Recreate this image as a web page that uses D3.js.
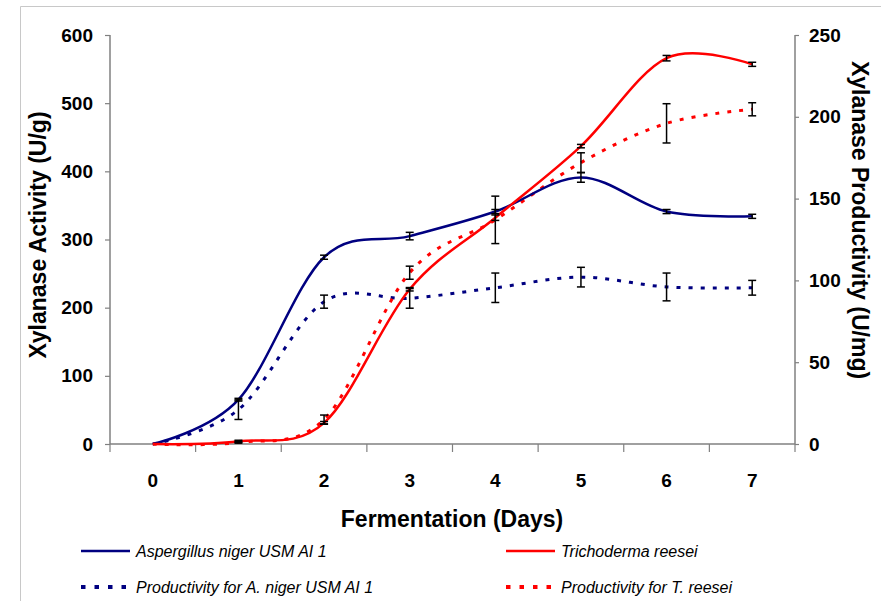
<!DOCTYPE html>
<html>
<head>
<meta charset="utf-8">
<script src="https://cdn.jsdelivr.net/npm/d3@7"></script>
<style>
	body { margin: 0; background: #fff; }
	svg { display: block; font-family: "Liberation Sans", Arial, sans-serif; }
	.tick-label { font-size: 19px; font-weight: bold; fill: #000; }
	.axis-title { font-size: 23px; font-weight: bold; fill: #000; }
	.legend-text { font-size: 16px; font-style: italic; fill: #000; }
</style>
</head>
<body>
<svg id="chart" width="881" height="601"></svg>
<script>
// Chart values
var days = [0, 1, 2, 3, 4, 5, 6, 7];

var nigerActivity = [0, 65, 274, 305, 341, 391, 341, 334];
var nigerActivityErr = [0, 2, 3, 5.5, 3, 7, 3, 3];
var reeseiActivity = [0, 4, 31, 227, 332, 437, 566, 557];
var reeseiActivityErr = [0, 1.5, 2, 2.5, 4, 2.5, 4, 3];

var nigerProductivity = [0, 21, 87, 89, 95.5, 102, 96, 95.5];
var nigerProductivityErr = [0, 6, 4, 6, 9, 6, 8.5, 4.5];
var reeseiProductivity = [0, 1, 15, 104.7, 137, 172, 196, 204.6];
var reeseiProductivityErr = [0, 0.5, 2.7, 4, 14.5, 6, 12, 4];

var leftTicks = [0, 100, 200, 300, 400, 500, 600];
var rightTicks = [0, 50, 100, 150, 200, 250];

var legendLabels = [
	"Aspergillus niger USM AI 1",
	"Trichoderma reesei",
	"Productivity for A. niger USM AI 1",
	"Productivity for T. reesei"
];

var blue = "#000080";
var red = "#ff0000";
var dash = "4,8";

var svg = d3.select("#chart");

// Outer frame of the original chart object
svg.append("path")
	.attr("d", "M20.5,601 V6.5 H881")
	.attr("fill", "none")
	.attr("stroke", "#c8c8c8");

var plotLeft = 110, plotRight = 795, plotTop = 35, plotBottom = 444;

var x = d3.scaleBand().domain(days).range([plotLeft, plotRight]);
var yLeft = d3.scaleLinear().domain([0, 600]).range([plotBottom, plotTop]);
var yRight = d3.scaleLinear().domain([0, 250]).range([plotBottom, plotTop]);
var cx = function(d) { return x(d) + x.bandwidth() / 2; };

var styleAxis = function(g)
{
	g.select(".domain").attr("stroke", "#808080").attr("stroke-width", 1.5);
	g.selectAll(".tick line").attr("stroke", "#808080").attr("stroke-width", 1.2);
	g.selectAll(".tick text").attr("class", "tick-label")
		.attr("font-size", null).attr("font-family", null);
	g.attr("font-size", null).attr("font-family", null);
};

// X axis: ticks sit between the categories
var gx = svg.append("g").attr("transform", "translate(0," + plotBottom + ")")
	.call(d3.axisBottom(x).tickSize(0).tickFormat(""));
styleAxis(gx);
gx.select(".domain").attr("d", "M" + plotLeft + ",0H" + plotRight);
gx.selectAll(".bnd").data(days.concat([null])).enter().append("line")
	.attr("x1", function(d) { return d === null ? plotRight : x(d); })
	.attr("x2", function(d) { return d === null ? plotRight : x(d); })
	.attr("y1", 0).attr("y2", 8)
	.attr("stroke", "#808080").attr("stroke-width", 1.2);
gx.selectAll(".xl").data(days).enter().append("text")
	.attr("class", "tick-label")
	.attr("x", cx).attr("y", 43)
	.attr("text-anchor", "middle")
	.text(function(d) { return d; });

var gl = svg.append("g").attr("transform", "translate(" + plotLeft + ",0)")
	.call(d3.axisLeft(yLeft).tickValues(leftTicks).tickSize(5).tickPadding(12));
styleAxis(gl);
gl.select(".domain").attr("d", "M0," + plotTop + "V" + plotBottom);

var gr = svg.append("g").attr("transform", "translate(" + plotRight + ",0)")
	.call(d3.axisRight(yRight).tickValues(rightTicks).tickSize(4).tickPadding(10));
styleAxis(gr);
gr.select(".domain").attr("d", "M0," + plotTop + "V" + plotBottom);

// Axis titles
svg.append("text").attr("class", "axis-title")
	.attr("transform", "translate(46,235) rotate(-90)")
	.attr("text-anchor", "middle")
	.text("Xylanase Activity (U/g)");
svg.append("text").attr("class", "axis-title")
	.attr("transform", "translate(852,220) rotate(90)")
	.attr("text-anchor", "middle")
	.text("Xylanase Productivity (U/mg)");
svg.append("text").attr("class", "axis-title")
	.attr("x", 452).attr("y", 527)
	.attr("text-anchor", "middle")
	.text("Fermentation (Days)");

// Series
var series = [
	{ values: nigerActivity, err: nigerActivityErr, y: yLeft, color: blue, dashed: false },
	{ values: reeseiActivity, err: reeseiActivityErr, y: yLeft, color: red, dashed: false },
	{ values: nigerProductivity, err: nigerProductivityErr, y: yRight, color: blue, dashed: true },
	{ values: reeseiProductivity, err: reeseiProductivityErr, y: yRight, color: red, dashed: true }
];

var plot = svg.append("g");

// dashed lines first, solid on top
[2, 3, 0, 1].forEach(function(k)
{
	var s = series[k];
	var line = d3.line()
		.x(function(d, i) { return cx(days[i]); })
		.y(function(d) { return s.y(d); })
		.curve(d3.curveCatmullRom.alpha(0));
	plot.append("path")
		.datum(s.values)
		.attr("d", line)
		.attr("fill", "none")
		.attr("stroke", s.color)
		.attr("stroke-width", s.dashed ? 3 : 2.5)
		.attr("stroke-dasharray", s.dashed ? dash : null);
});

// Error bars
series.forEach(function(s)
{
	var g = plot.append("g").attr("stroke", "#000").attr("stroke-width", 1.5);
	s.values.forEach(function(v, i)
	{
		if (s.err[i] <= 0) return;
		var xc = cx(days[i]);
		var y1 = s.y(v - s.err[i]), y2 = s.y(v + s.err[i]);
		g.append("line").attr("x1", xc).attr("x2", xc).attr("y1", y1).attr("y2", y2);
		g.append("line").attr("x1", xc - 4).attr("x2", xc + 4).attr("y1", y1).attr("y2", y1);
		g.append("line").attr("x1", xc - 4).attr("x2", xc + 4).attr("y1", y2).attr("y2", y2);
	});
});

// Legend
var legendPos = [[81, 551], [506, 551], [81, 587], [506, 587]];
legendLabels.forEach(function(label, i)
{
	var s = series[i];
	var p = legendPos[i];
	svg.append("line")
		.attr("x1", p[0]).attr("x2", p[0] + 49)
		.attr("y1", p[1]).attr("y2", p[1])
		.attr("stroke", s.color)
		.attr("stroke-width", s.dashed ? 4 : 2.5)
		.attr("stroke-dasharray", s.dashed ? "4.5,9" : null);
	svg.append("text").attr("class", "legend-text")
		.attr("x", p[0] + 55).attr("y", p[1] + 6)
		.text(label);
});
</script>
</body>
</html>
